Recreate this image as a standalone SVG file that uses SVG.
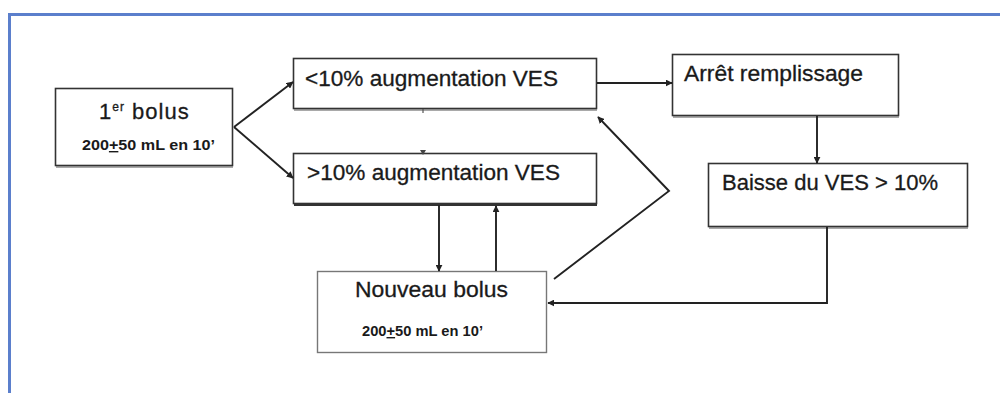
<svg xmlns="http://www.w3.org/2000/svg" width="1000" height="393" viewBox="0 0 1000 393">
<defs>
<style>
.box{fill:#fff;stroke:#333;stroke-width:1.6}
.shadow{stroke:#555;stroke-width:1.2}
.lbl{font-family:"Liberation Sans",Arial,sans-serif;font-size:22px;fill:#1a1a1a;stroke:#1a1a1a;stroke-width:0.3}
.sub{font-family:"Liberation Sans",Arial,sans-serif;font-size:14px;font-weight:bold;fill:#1a1a1a}
.con{fill:none;stroke:#222;stroke-width:1.9}
</style>
<marker id="ah" viewBox="0 0 10 10" refX="9" refY="5" markerWidth="7" markerHeight="7" markerUnits="userSpaceOnUse" orient="auto">
<path d="M0,0 L10,5 L0,10 z" fill="#222"/>
</marker>
</defs>
<rect x="0" y="0" width="1000" height="393" fill="#fff"/>
<path d="M9.5,400 L9.5,14.5 L1010,14.5" fill="none" stroke="#5b7fcc" stroke-width="3"/>

<g id="n-bolus1">
<rect class="box" x="55.5" y="88.5" width="177" height="77"/>
<line class="shadow" x1="56" y1="167" x2="233" y2="167"/>
<text class="lbl" x="99" y="119" letter-spacing="1">1<tspan font-size="12" dy="-8">er</tspan><tspan dy="8"> bolus</tspan></text>
<text class="sub" x="82" y="150" textLength="133" lengthAdjust="spacingAndGlyphs">200<tspan text-decoration="underline">+</tspan>50 mL en 10’</text>
</g>

<g id="n-lt10">
<rect class="box" x="293.5" y="58.5" width="303" height="50"/>
<line class="shadow" x1="294" y1="110" x2="597" y2="110"/>
<text class="lbl" x="305" y="86" textLength="253" lengthAdjust="spacingAndGlyphs">&lt;10% augmentation VES</text>
</g>

<g id="n-gt10">
<rect class="box" x="293.5" y="153.5" width="303" height="50"/>
<line x1="294" y1="205" x2="597" y2="205" stroke="#333" stroke-width="2"/>
<text class="lbl" x="307" y="180" textLength="253" lengthAdjust="spacingAndGlyphs">&gt;10% augmentation VES</text>
</g>

<g id="n-arret">
<rect class="box" x="672.5" y="54.5" width="226" height="61"/>
<line class="shadow" x1="673" y1="117" x2="899" y2="117"/>
<text class="lbl" x="684" y="81" textLength="179" lengthAdjust="spacingAndGlyphs">Arrêt remplissage</text>
</g>

<g id="n-baisse">
<rect class="box" x="708.5" y="163.5" width="259" height="63"/>
<line class="shadow" x1="709" y1="228" x2="968" y2="228"/>
<text class="lbl" x="722" y="190" textLength="216" lengthAdjust="spacingAndGlyphs">Baisse du VES &gt; 10%</text>
</g>

<g id="n-nouveau">
<rect x="317.5" y="271.5" width="229" height="81" fill="#fff" stroke="#777" stroke-width="1.4"/>
<text class="lbl" x="355" y="297" font-size="21" textLength="153" lengthAdjust="spacingAndGlyphs">Nouveau bolus</text>
<text class="sub" x="362" y="336" textLength="121" lengthAdjust="spacingAndGlyphs">200<tspan text-decoration="underline">+</tspan>50 mL en 10’</text>
</g>

<g id="connectors">
<line class="con" x1="234" y1="127" x2="293" y2="82" marker-end="url(#ah)"/>
<line class="con" x1="234" y1="127" x2="293" y2="178" marker-end="url(#ah)"/>
<line class="con" x1="597" y1="83" x2="672" y2="83" marker-end="url(#ah)"/>
<line class="con" x1="817" y1="116" x2="817" y2="163" marker-end="url(#ah)"/>
<line class="con" x1="439" y1="205" x2="439" y2="271" marker-end="url(#ah)"/>
<line class="con" x1="496" y1="271" x2="496" y2="206" stroke-width="2.8" marker-end="url(#ah)"/>
<polyline class="con" points="554,279 669,191 598,117" marker-end="url(#ah)"/>
<polyline class="con" points="827,227 827,303 548,303" marker-end="url(#ah)"/>
<line x1="423" y1="109" x2="423" y2="113" stroke="#555" stroke-width="1.2"/>
<path d="M420,150 L426,150 L423,155 z" fill="#444"/>
</g>
</svg>
